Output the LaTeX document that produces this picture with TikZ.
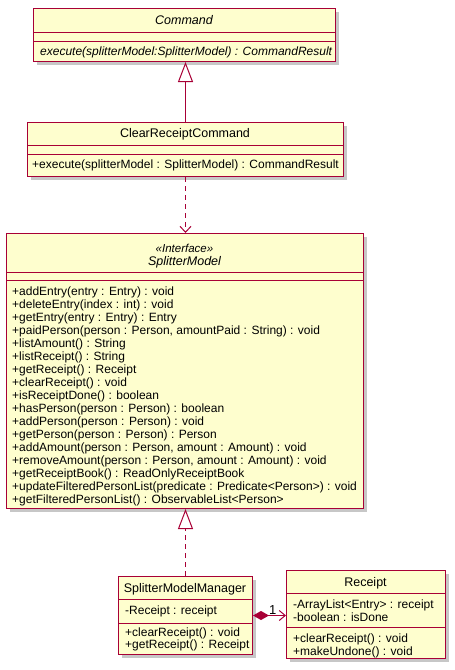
\documentclass[tikz,border=0pt]{standalone}
\usepackage{fontspec}
\setmainfont{Liberation Sans}
\usetikzlibrary{arrows.meta,positioning,shadows}
\definecolor{umlfill}{HTML}{FEFECE}
\definecolor{umlred}{HTML}{A80036}

\begin{document}
\begin{tikzpicture}[
  x=1pt, y=-1pt,
  font=\fontsize{12}{13}\selectfont,
  classbox/.style={draw=umlred, fill=umlfill, line width=1pt, anchor=north west, inner sep=0pt,
    drop shadow={shadow xshift=3pt, shadow yshift=-3pt, fill=black, opacity=0.22}},
  title/.style={anchor=base, inner sep=0pt, font=\fontsize{12.5}{14}\selectfont},
  member/.style={anchor=base west, inner sep=0pt},
  sep/.style={draw=umlred, line width=1pt},
  extends/.style={umlred, line width=1pt, -{Triangle[open, length=20pt, width=15pt]}},
  dashline/.style={umlred, line width=1pt, dash pattern=on 5pt off 4pt},
  uses/.style={dashline, -{Straight Barb[length=6pt, width=11pt]}},
  owns/.style={umlred, line width=1pt, {Diamond[length=16pt, width=9pt]}-{Straight Barb[length=6pt, width=10pt]}}
]
\useasboundingbox (0,0) rectangle (455,670);

% Boxes
\node[classbox, minimum width=302pt, minimum height=53pt] (cmd) at (33,8) {};
\node[classbox, minimum width=316pt, minimum height=54pt] (crc) at (27,122) {};
\node[classbox, minimum width=357pt, minimum height=275pt] (sm) at (6,233) {};
\node[classbox, minimum width=134pt, minimum height=78pt] (smm) at (118,576) {};
\node[classbox, minimum width=159pt, minimum height=88pt] (rc) at (286,570) {};

% Compartments
\draw[sep] (33,32) -- (335,32) (33,41) -- (335,41);
\draw[sep] (27,145) -- (343,145) (27,154) -- (343,154);
\draw[sep] (6,272) -- (363,272) (6,280) -- (363,280);
\draw[sep] (118,599) -- (252,599) (118,623) -- (252,623);
\draw[sep] (286,593) -- (445,593) (286,627) -- (445,627);

% Command
\node[title, font=\fontsize{12.5}{14}\selectfont\itshape] (cmdname) at (184,24.5) {Command};
\node[member, font=\fontsize{12}{13}\selectfont\itshape] (cmdexec) at (40,55.3) {execute(splitterModel:SplitterModel) : CommandResult};

% ClearReceiptCommand
\node[title] (crcname) at (185,137.5) {ClearReceiptCommand};
\node[member] (crcexec) at (32,168.3) {+execute(splitterModel : SplitterModel) : CommandResult};

% SplitterModel
\node[title, font=\fontsize{11.5}{13}\selectfont\itshape] (smstereo) at (184.5,252) {«Interface»};
\node[title, font=\fontsize{12.5}{14}\selectfont\itshape] (smname) at (184.5,265.5) {SplitterModel};
\foreach \m [count=\i from 0] in {
  {+addEntry(entry : Entry) : void},
  {+deleteEntry(index : int) : void},
  {+getEntry(entry : Entry) : Entry},
  {+paidPerson(person : Person, amountPaid : String) : void},
  {+listAmount() : String},
  {+listReceipt() : String},
  {+getReceipt() : Receipt},
  {+clearReceipt() : void},
  {+isReceiptDone() : boolean},
  {+hasPerson(person : Person) : boolean},
  {+addPerson(person : Person) : void},
  {+getPerson(person : Person) : Person},
  {+addAmount(person : Person, amount : Amount) : void},
  {+removeAmount(person : Person, amount : Amount) : void},
  {+getReceiptBook() : ReadOnlyReceiptBook},
  {+updateFilteredPersonList(predicate : Predicate<Person>) : void},
  {+getFilteredPersonList() : ObservableList<Person>}}
  \node[member] (sm\i) at (12,295.3+13*\i) {\m};

% SplitterModelManager
\node[title] (smmname) at (185,592.5) {SplitterModelManager};
\node[member] (smmattr) at (125,614.3) {-Receipt : receipt};
\node[member] (smmclear) at (125,636.3) {+clearReceipt() : void};
\node[member] (smmget) at (125,648.3) {+getReceipt() : Receipt};

% Receipt
\node[title] (rcname) at (365.5,586.5) {Receipt};
\node[member] (rclist) at (293,608.3) {-ArrayList<Entry> : receipt};
\node[member] (rcdone) at (293,621.3) {-boolean : isDone};
\node[member] (rcclear) at (293,642.3) {+clearReceipt() : void};
\node[member] (rcundo) at (293,655.3) {+makeUndone() : void};

% Connections
\draw[extends] (crc.north) -- (crc.north |- cmd.south);
\draw[uses] (crc.south) -- (crc.south |- sm.north);
\draw[dashline, -{Triangle[open, length=20pt, width=15pt]}] (smm.north) -- (smm.north |- sm.south);
\draw[owns] (smm.east) -- node[pos=0.6, above=1pt, font=\fontsize{13}{15}\selectfont, inner sep=0pt, text=black] {1} (smm.east -| rc.west);

\end{tikzpicture}
\end{document}
